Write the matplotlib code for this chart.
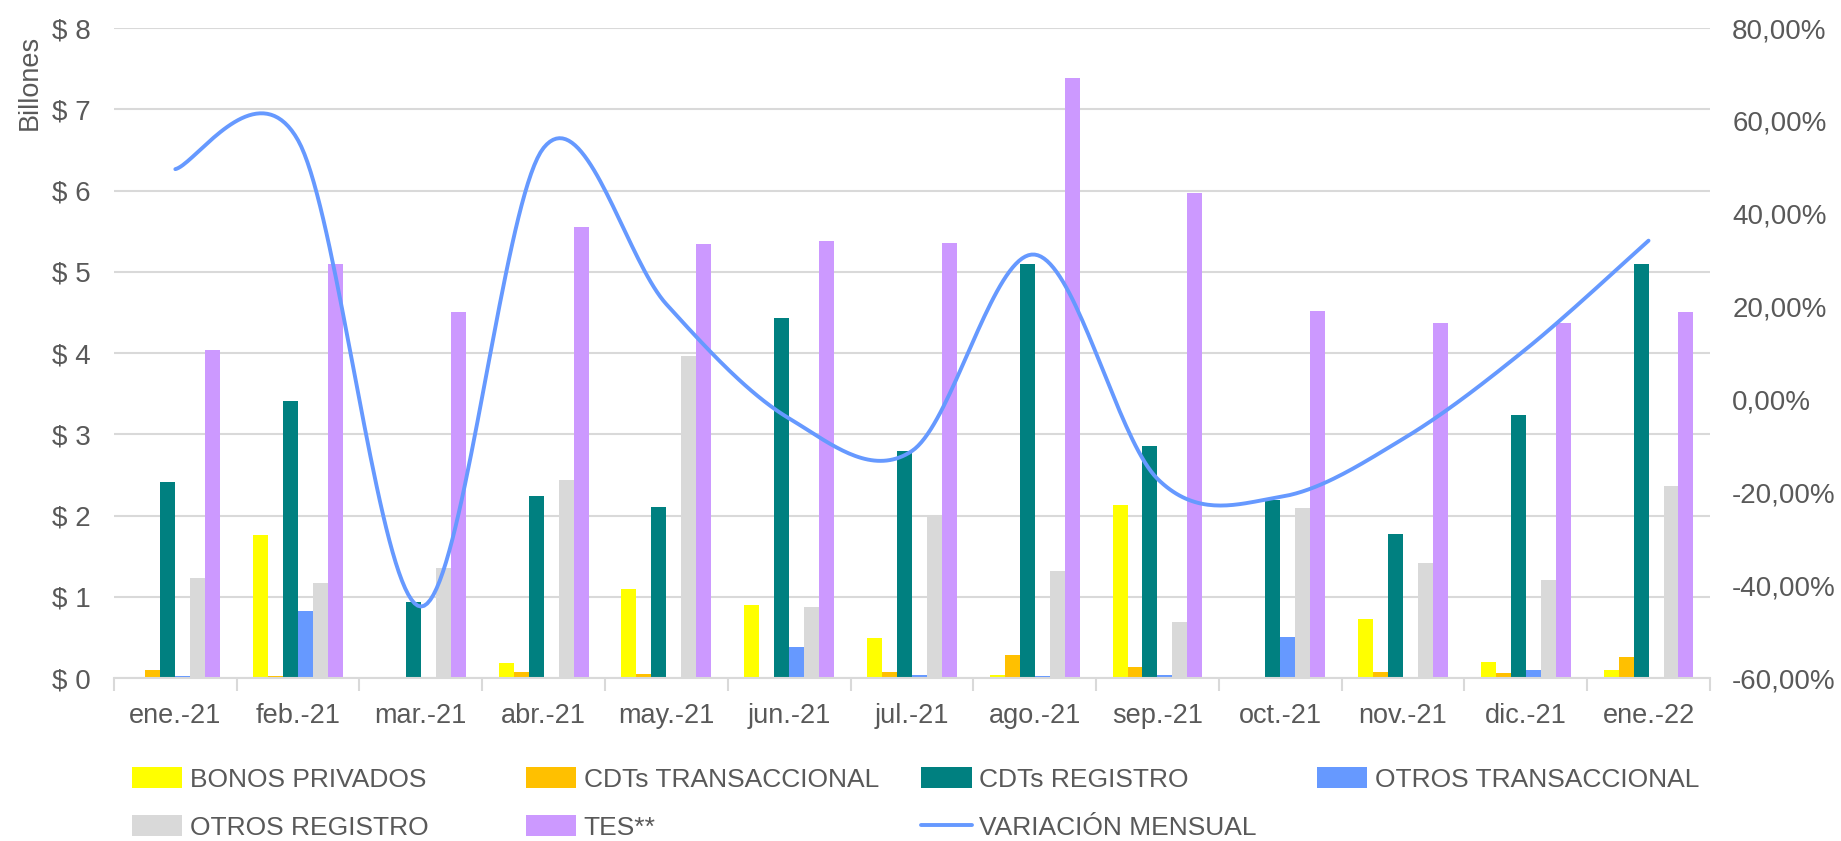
import numpy as np
import matplotlib.pyplot as plt
from matplotlib.ticker import FuncFormatter, MultipleLocator

plt.rcParams['font.family'] = ['Liberation Sans', 'DejaVu Sans']

meses = ['ene.-21', 'feb.-21', 'mar.-21', 'abr.-21', 'may.-21', 'jun.-21', 'jul.-21',
         'ago.-21', 'sep.-21', 'oct.-21', 'nov.-21', 'dic.-21', 'ene.-22']

# billones de pesos
bonos_privados = [0.0, 1.76, 0.0, 0.19, 1.09, 0.90, 0.49, 0.04, 2.13, 0.0, 0.73, 0.20, 0.10]
cdts_transaccional = [0.10, 0.03, 0.015, 0.07, 0.055, 0.0, 0.08, 0.28, 0.14, 0.0, 0.07, 0.06, 0.26]
cdts_registro = [2.41, 3.41, 0.93, 2.24, 2.10, 4.43, 2.79, 5.10, 2.85, 2.19, 1.77, 3.24, 5.10]
otros_transaccional = [0.03, 0.82, 0.0, 0.0, 0.0, 0.38, 0.04, 0.02, 0.04, 0.50, 0.0, 0.10, 0.0]
otros_registro = [1.23, 1.17, 1.35, 2.44, 3.96, 0.88, 2.00, 1.32, 0.69, 2.09, 1.42, 1.21, 2.36]
tes = [4.04, 5.10, 4.50, 5.55, 5.34, 5.38, 5.35, 7.38, 5.97, 4.52, 4.37, 4.37, 4.50]

# variacion mensual (%)
variacion = [49.6, 55.8, -44.6, 54.2, 20.5, -4.1, -11.1, 31.2, -17.1, -21.0, -8.5, 10.8, 34.2]

series = [('BONOS PRIVADOS', bonos_privados, '#FFFF00'),
          ('CDTs TRANSACCIONAL', cdts_transaccional, '#FFC000'),
          ('CDTs REGISTRO', cdts_registro, '#008080'),
          ('OTROS TRANSACCIONAL', otros_transaccional, '#6699FF'),
          ('OTROS REGISTRO', otros_registro, '#D9D9D9'),
          ('TES**', tes, '#CC99FF')]

txt = '#595959'
grid = '#D9D9D9'


def smooth(y, n=40):
    # curva suavizada tipo Excel (bezier catmull-rom)
    y = np.asarray(y, dtype=float)
    x = np.arange(len(y), dtype=float)
    pts = np.column_stack([x, y])
    out = []
    for i in range(len(pts) - 1):
        p0 = pts[max(i - 1, 0)]
        p1 = pts[i]
        p2 = pts[i + 1]
        p3 = pts[min(i + 2, len(pts) - 1)]
        c1 = p1 + (p2 - p0) / 6
        c2 = p2 - (p3 - p1) / 6
        t = np.linspace(0, 1, n)[:, None]
        seg = ((1 - t) ** 3) * p1 + 3 * ((1 - t) ** 2) * t * c1 + 3 * (1 - t) * t ** 2 * c2 + t ** 3 * p2
        out.append(seg)
    out = np.vstack(out)
    return out[:, 0], out[:, 1]


fig = plt.figure(figsize=(18.41, 8.41), dpi=100)
ax = fig.add_axes([0.0619, 0.1938, 0.8669, 0.7729])
x = np.arange(len(meses))
w = 0.122

handles = []
for i, (name, vals, col) in enumerate(series):
    b = ax.bar(x + (i - 2.5) * w, vals, w, color=col, label=name, zorder=2)
    handles.append(b)

ax.set_xlim(-0.5, len(meses) - 0.5)
ax.set_ylim(0, 8)
ax.yaxis.set_major_locator(MultipleLocator(1))
ax.yaxis.set_major_formatter(FuncFormatter(lambda v, p: '$ %d' % v))
ax.grid(axis='y', color=grid, linewidth=1.5, zorder=0)
ax.set_axisbelow(True)
ax.set_xticks(x)
ax.set_xticklabels(meses)
ax.set_xticks(np.arange(-0.5, len(meses)), minor=True)
ax.tick_params(axis='x', which='major', length=0, pad=18, labelsize=19.5, labelcolor=txt)
ax.tick_params(axis='x', which='minor', length=9, width=1.5, color=grid)
ax.tick_params(axis='y', length=0, pad=17, labelsize=20, labelcolor=txt)
for s in ['top', 'left', 'right']:
    ax.spines[s].set_visible(False)
ax.spines['bottom'].set_color(grid)
ax.spines['bottom'].set_linewidth(1.5)

ax2 = ax.twinx()
xs, ys = smooth(variacion)
line, = ax2.plot(xs, ys, color='#6699FF', linewidth=2.8, label='VARIACIÓN MENSUAL',
                 solid_capstyle='round')
ax2.set_ylim(-60, 80)
ax2.yaxis.set_major_locator(MultipleLocator(20))
ax2.yaxis.set_major_formatter(FuncFormatter(lambda v, p: ('%.2f%%' % v).replace('.', ',')))
ax2.tick_params(axis='y', length=0, pad=16, labelsize=20, labelcolor=txt)
for s in ['top', 'left', 'right', 'bottom']:
    ax2.spines[s].set_visible(False)

fig.text(0.016, 0.902, 'Billones', rotation=90, ha='center', va='center', fontsize=19.5, color=txt)

handles.append(line)
labels = [s[0] for s in series] + ['VARIACIÓN MENSUAL']
cols = [[0, 4], [1, 5], [2, 6], [3]]
col_x = [0.0715, 0.2855, 0.5005, 0.7155]
for cx, idx in zip(col_x, cols):
    fig.legend([handles[k] for k in idx], [labels[k] for k in idx], loc='upper left',
               bbox_to_anchor=(cx, 0.088), frameon=False, fontsize=19, labelcolor=txt,
               handlelength=1.9, handleheight=0.85, handletextpad=0.3, labelspacing=0.9,
               borderpad=0, borderaxespad=0)

fig.savefig('out.png', dpi=100)
